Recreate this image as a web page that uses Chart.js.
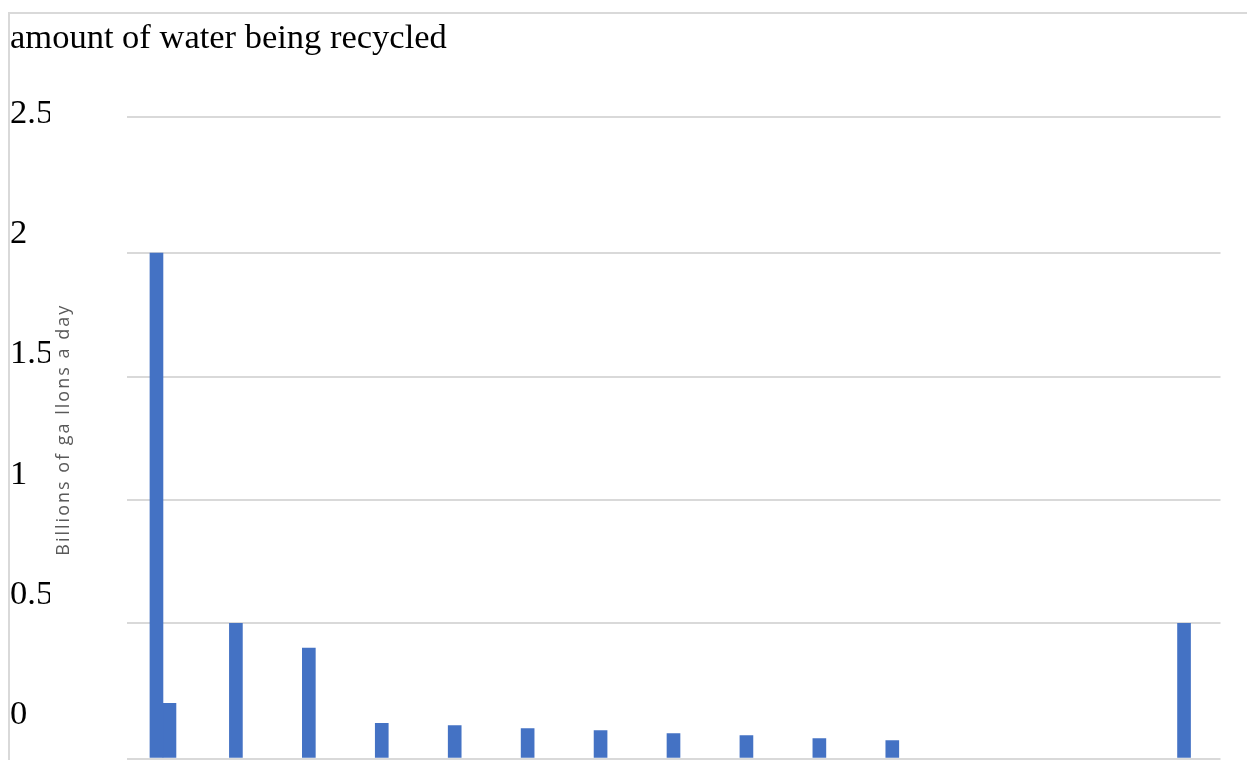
<!DOCTYPE html>
<html>
<head>
<meta charset="utf-8">
<title>amount of water being recycled</title>
<script src="https://cdn.jsdelivr.net/npm/chart.js@4"></script>
<style>
  html, body { margin: 0; padding: 0; background: #fff; overflow: hidden; }
  #frame { position: absolute; left: 8px; top: 12px; width: 1300px; height: 800px; border: 2px solid #d9d9d9; }
  #wrap { position: absolute; left: 0; top: 0; width: 1247px; height: 760px; }
</style>
</head>
<body>
<div id="frame"></div>
<div id="wrap"><canvas id="waterChart"></canvas></div>
<script>
// categories (their labels are cut off in the picture)
const categories = ['1', '2', '3', '4', '5', '6', '7', '8', '9', '10', '11', '12', '13', '14', '15'];

// billions of gallons a day
const firstBarValues = [2.0, null, null, null, null, null, null, null, null, null, null, null, null, null, null];
const recycledValues = [0.176, 0.5, 0.4, 0.095, 0.086, 0.074, 0.066, 0.054, 0.046, 0.034, 0.026, null, null, null, 0.5];

const yTickValues = [0, 0.5, 1, 1.5, 2, 2.5];
const yTickLabels = ['0', '0.5', '1', '1.5', '2', '2.5'];

// the value axis and its printed labels do not line up in the original
const GRID_MIN = -0.047;
const GRID_MAX = 2.551;
const LABEL_MIN = -0.169;
const LABEL_MAX = 2.5;

const BAR_BLUE = '#4472c4';
const GRID_GREY = '#d9d9d9';

Chart.defaults.font.family = '"Liberation Serif", "Times New Roman", serif';
Chart.defaults.color = '#000';

// the axis title in the original is a little letter-spaced
const spacedAxisTitle = {
    id: 'spacedAxisTitle',
    beforeDraw(chart) {
        const scale = chart.scales.y;
        if (scale._spaced) return;
        const drawTitle = scale.drawTitle;
        scale.drawTitle = function () {
            const c = this.ctx;
            c.save();
            c.letterSpacing = '2px';
            c.translate(0, -8);
            drawTitle.call(this);
            c.restore();
        };
        scale._spaced = true;
    }
};

const ctx = document.getElementById('waterChart').getContext('2d');

new Chart(ctx, {
    type: 'bar',
    data: {
        labels: categories,
        datasets: [
            {
                label: 'first',
                data: firstBarValues,
                backgroundColor: BAR_BLUE,
                borderWidth: 0,
                barThickness: 13,
                skipNull: true,
                base: GRID_MIN
            },
            {
                label: 'recycled',
                data: recycledValues,
                backgroundColor: BAR_BLUE,
                borderWidth: 0,
                barThickness: 13,
                skipNull: true,
                base: GRID_MIN
            }
        ]
    },
    options: {
        responsive: true,
        maintainAspectRatio: false,
        animation: false,
        layout: {
            padding: { left: 10, right: 26.5, top: 0, bottom: 1.5 }
        },
        plugins: {
            legend: { display: false },
            tooltip: { enabled: false },
            title: {
                display: true,
                text: 'amount of water being recycled',
                align: 'start',
                color: '#000',
                font: { size: 34.5, weight: 'normal' },
                padding: { top: 18, bottom: 57.6 }
            }
        },
        scales: {
            x: {
                display: false
            },
            y: {
                position: 'left',
                weight: 0,
                min: GRID_MIN,
                max: GRID_MAX,
                afterBuildTicks: axis => {
                    const last = yTickValues.length - 1;
                    axis.ticks = yTickValues.map((v, i) => ({
                        value: i === 0 ? axis.min : (i === last ? axis.max : v)
                    }));
                },
                afterFit: axis => {
                    axis.width = 76.5;
                },
                ticks: { display: false },
                grid: {
                    color: GRID_GREY,
                    lineWidth: 2,
                    drawTicks: false
                },
                border: { display: false },
                title: {
                    display: true,
                    text: 'Billions of ga llons a day',
                    color: '#595959',
                    font: { family: '"Open Sans", sans-serif', size: 18, weight: 'normal' },
                    padding: { top: 3, bottom: 0 }
                }
            },
            yLabels: {
                type: 'linear',
                position: 'left',
                weight: 1,
                min: LABEL_MIN,
                max: LABEL_MAX,
                afterBuildTicks: axis => {
                    axis.ticks = yTickValues.map(v => ({ value: v }));
                },
                afterFit: axis => {
                    axis.width = 40;
                    axis.paddingTop = 0;
                    axis.paddingBottom = 0;
                },
                grid: { display: false },
                border: { display: false },
                ticks: {
                    color: '#000',
                    font: { size: 34.5 },
                    padding: 0,
                    crossAlign: 'far',
                    labelOffset: -3,
                    callback: value => yTickLabels[yTickValues.indexOf(value)]
                }
            }
        }
    },
    plugins: [spacedAxisTitle]
});
</script>
</body>
</html>
